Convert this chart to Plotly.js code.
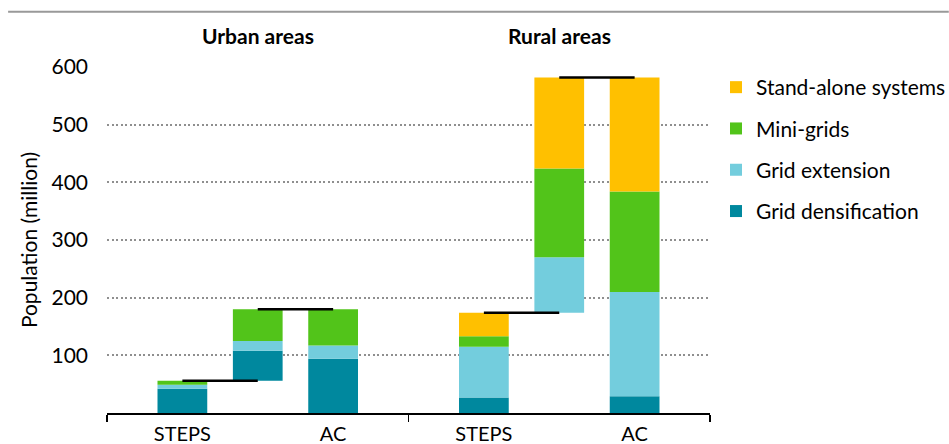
<!DOCTYPE html>
<html>
<head>
<meta charset="utf-8">
<script src="https://cdn.plot.ly/plotly-3.0.1.min.js"></script>
<style>html,body{margin:0;padding:0;background:#fff;}</style>
</head>
<body>
<div id="chart" style="width:949px;height:444px;"></div>
<script>
// ---- Data ----
const areas = ['Urban areas', 'Rural areas'];
const scenarios = ['STEPS', 'Change', 'AC'];
const barArea = [0, 0, 0, 1, 1, 1];
const barScenario = ['STEPS', 'Change', 'AC', 'STEPS', 'Change', 'AC'];
const densification = [42, 52, 94, 27, 0, 29];
const extension = [7, 17, 23, 88, 96, 181];
const miniGrids = [7, 55, 63, 18, 154, 174];
const standAlone = [0, 0, 0, 41, 158, 198];
const seriesNames = ['Grid densification', 'Grid extension', 'Mini-grids', 'Stand-alone systems'];
const yTicks = [100, 200, 300, 400, 500, 600];

// ---- Styles ----
const seriesColors = ['#00889e', '#73cddd', '#52c41a', '#ffc000'];
const FONT = 'Lato, "Open Sans", sans-serif';
const FS = 21;

const series = [densification, extension, miniGrids, standAlone];
const xPos = barArea.map((a, i) => a * 4 + scenarios.indexOf(barScenario[i]) + 1);
const totals = xPos.map((_, i) => series.reduce((s, arr) => s + arr[i], 0));
const start = xPos.map((_, i) => {
  if (barScenario[i] !== 'Change') return 0;
  const j = barArea.findIndex((a, k) => a === barArea[i] && barScenario[k] === 'STEPS');
  return totals[j];
});

const traces = series.map((arr, k) => ({
  type: 'bar',
  name: seriesNames[k],
  legendgroup: seriesNames[k],
  legendrank: series.length - k,
  x: xPos,
  y: arr,
  base: xPos.map((_, i) => start[i] + series.slice(0, k).reduce((s, a) => s + a[i], 0)),
  width: 0.66,
  marker: {color: seriesColors[k], line: {width: 0}},
  hoverinfo: 'skip'
}));

// connectors
const cx = [], cy = [];
areas.forEach((_, a) => {
  const iS = barArea.findIndex((v, k) => v === a && barScenario[k] === 'STEPS');
  const iC = barArea.findIndex((v, k) => v === a && barScenario[k] === 'Change');
  const iA = barArea.findIndex((v, k) => v === a && barScenario[k] === 'AC');
  cx.push(xPos[iS], xPos[iC], null, xPos[iC], xPos[iA], null);
  cy.push(totals[iS], totals[iS], null, start[iC] + totals[iC], start[iC] + totals[iC], null);
});
traces.push({
  type: 'scatter', mode: 'lines', x: cx, y: cy, showlegend: false,
  line: {color: '#000', width: 2.5}, hoverinfo: 'skip'
});

const labelIdx = xPos.map((_, i) => i).filter(i => barScenario[i] !== 'Change');

const layout = {
  width: 949, height: 444,
  margin: {l: 107, r: 239, t: 67, b: 31},
  paper_bgcolor: '#fff', plot_bgcolor: '#fff',
  font: {family: FONT, color: '#000', size: FS},
  barmode: 'overlay',
  showlegend: true,
  legend: {
    xref: 'container', yref: 'container',
    x: 716 / 949, y: 1 - 67 / 444, xanchor: 'left', yanchor: 'top',
    font: {family: FONT, size: FS, color: '#000'},
    traceorder: 'grouped', tracegroupgap: 11,
    bgcolor: 'rgba(0,0,0,0)'
  },
  xaxis: {
    range: [0, 8],
    tickmode: 'array',
    tickvals: labelIdx.map(i => xPos[i]),
    ticktext: labelIdx.map(i => barScenario[i]),
    ticks: '',
    ticklabelstandoff: 2,
    tickfont: {family: FONT, size: 20, color: '#000'},
    showline: true, linecolor: '#000', linewidth: 1.5,
    showgrid: false, zeroline: false,
    minor: {tickmode: 'array', tickvals: [0, 4, 8], ticks: 'outside', ticklen: 7, tickwidth: 1.5, tickcolor: '#000', showgrid: false}
  },
  yaxis: {
    range: [0, 600],
    tickmode: 'array', tickvals: yTicks,
    ticks: '',
    ticklabelstandoff: 18,
    tickfont: {family: FONT, size: FS, color: '#000'},
    showgrid: true, gridcolor: '#8f8f8f', gridwidth: 1.8, griddash: '2px,2.5px',
    zeroline: false, showline: false,
    title: {text: 'Population (million)', font: {family: FONT, size: FS, color: '#000'}, standoff: 8}
  },
  shapes: [{
    type: 'line', xref: 'paper', yref: 'paper',
    x0: -0.164, x1: 1.396, y0: 1.16, y1: 1.16,
    line: {color: '#999', width: 2}
  }],
  annotations: areas.map((name, a) => ({
    text: '<b>' + name + '</b>',
    x: a * 4 + 2, xref: 'x', y: 1.09, yref: 'paper',
    showarrow: false, xanchor: 'center', yanchor: 'middle',
    font: {family: FONT, size: FS, color: '#000'}
  }))
};

Plotly.newPlot('chart', traces, layout, {displayModeBar: false, staticPlot: true});
</script>
</body>
</html>
